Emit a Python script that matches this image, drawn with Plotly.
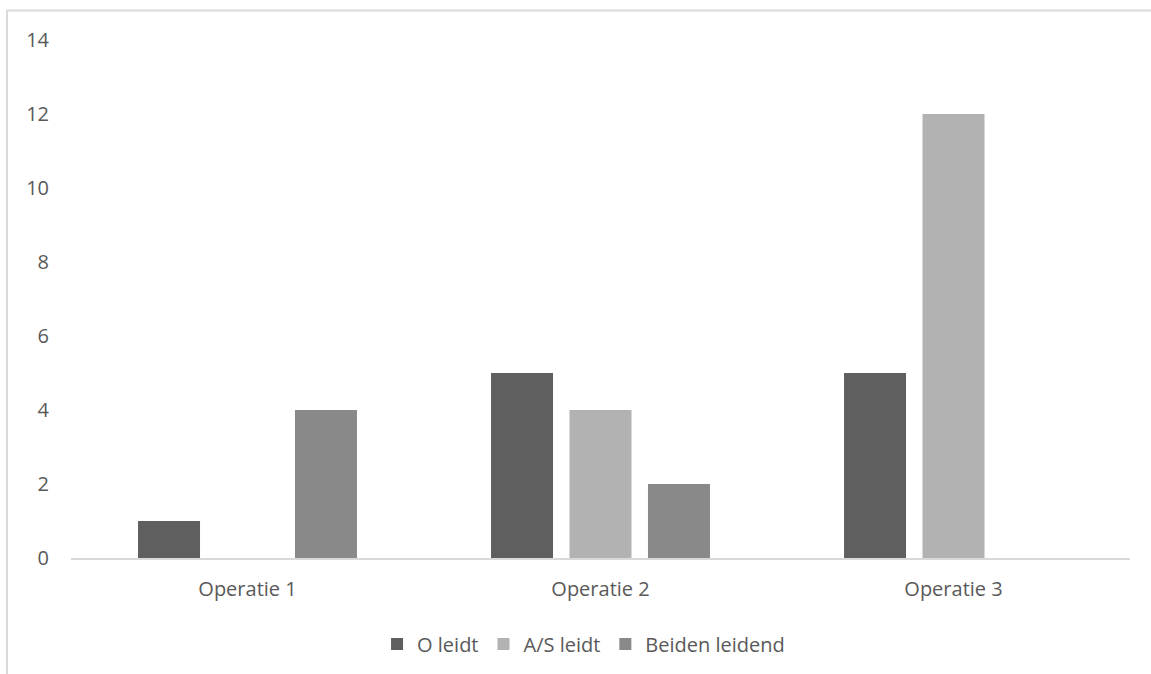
import plotly.graph_objects as go

categories = ["Operatie 1", "Operatie 2", "Operatie 3"]
series_names = ["O leidt", "A/S leidt", "Beiden leidend"]
o_leidt = [1, 5, 5]
as_leidt = [0, 4, 12]
beiden_leidend = [4, 2, 0]
y_ticks = [0, 2, 4, 6, 8, 10, 12, 14]

colors = ["#5f5f5f", "#b2b2b2", "#898989"]
text_color = "#595959"
font_family = "Open Sans, Noto Sans, sans-serif"
font_size = 20

fig = go.Figure()
for name, vals, col in zip(series_names, [o_leidt, as_leidt, beiden_leidend], colors):
    fig.add_trace(go.Bar(
        x=categories, y=vals, name=name,
        marker=dict(color=col, line=dict(width=0)),
    ))

# outer chart border (only top and left edges fall inside the page)
fig.add_shape(
    type="rect", xref="paper", yref="paper",
    x0=-0.0604, x1=1.08, y0=-0.35, y1=1.0568,
    line=dict(color="#d9d9d9", width=2), fillcolor="rgba(0,0,0,0)",
    layer="below",
)

fig.update_layout(
    width=1151, height=674,
    margin=dict(l=71, r=21, t=40, b=115),
    paper_bgcolor="white", plot_bgcolor="white",
    barmode="group", bargap=0.333, bargroupgap=0.21,
    font=dict(family=font_family, size=font_size, color=text_color),
    showlegend=True,
    legend=dict(
        orientation="h", x=0.289, xanchor="left", y=-0.1638, yanchor="middle",
        font=dict(size=font_size, color=text_color),
        traceorder="normal",
    ),
    xaxis=dict(
        showgrid=False, showline=True, linecolor="#d9d9d9", linewidth=2,
        ticks="", tickfont=dict(size=font_size, color=text_color), zeroline=False,
        ticklabelstandoff=12,
    ),
    yaxis=dict(
        range=[0, 14], tickvals=y_ticks, showgrid=False, showline=False,
        zeroline=False, ticks="", ticklabelstandoff=21,
        tickfont=dict(size=font_size, color=text_color),
    ),
)

fig.write_html("out.html")
